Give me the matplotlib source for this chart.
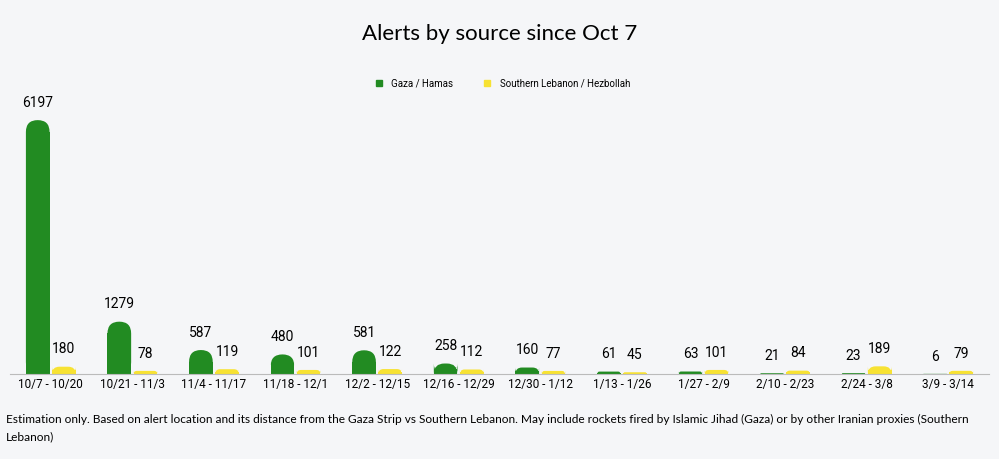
import matplotlib
matplotlib.use("Agg")
import matplotlib.pyplot as plt
from matplotlib.patches import FancyBboxPatch, Rectangle
from matplotlib.lines import Line2D

periods = ["10/7 - 10/20","10/21 - 11/3","11/4 - 11/17","11/18 - 12/1","12/2 - 12/15","12/16 - 12/29",
           "12/30 - 1/12","1/13 - 1/26","1/27 - 2/9","2/10 - 2/23","2/24 - 3/8","3/9 - 3/14"]
gaza = [6197,1279,587,480,581,258,160,61,63,21,23,6]
leb = [180,78,119,101,122,112,77,45,101,84,189,79]

BG = "#f5f6f8"
GREEN = "#228b22"
YELLOW = "#f7e233"
fig = plt.figure(figsize=(9.99,4.59), dpi=100, facecolor=BG)
ax = fig.add_axes([0.01,0.185,0.98,0.625], facecolor=BG)
n = len(periods)
ax.set_xlim(-0.5, n-0.5)
ymax = 7000
ax.set_ylim(0, ymax)
w = 0.29
xpp = n/(0.98*999)
ypp = ymax/(0.625*459)
aspect = ypp/xpp

def rbar(x, h, color):
    r = w/2
    hr = min(r*aspect, h)
    rs = min(r, h/aspect)
    p = FancyBboxPatch((x-w/2, 0), w, h, boxstyle=f"round,pad=0,rounding_size={rs}",
                       mutation_aspect=aspect, fc=color, ec="none", lw=0)
    ax.add_patch(p)
    rh = h - hr if h > 2*hr else h/2
    ax.add_patch(Rectangle((x-w/2, 0), w, rh, fc=color, ec="none", lw=0))

for i,(g,l) in enumerate(zip(gaza,leb)):
    rbar(i-0.16, g, GREEN)
    rbar(i+0.16, l, YELLOW)
    ax.text(i-0.16, g+250, str(g), ha="center", va="bottom", fontsize=10, family="Roboto")
    ax.text(i+0.16, l+250, str(l), ha="center", va="bottom", fontsize=10, family="Roboto")

ax.set_xticks(range(n))
ax.set_xticklabels(periods, fontsize=8.5, family="Roboto")
ax.tick_params(axis="x", length=0, pad=3)
ax.set_yticks([])
for s in ["top","right","left"]:
    ax.spines[s].set_visible(False)
ax.spines["bottom"].set_color("#bbbbbb")

fig.text(0.5, 0.925, "Alerts by source since Oct 7", ha="center", va="center", fontsize=16, family="Lato")
h = [Line2D([],[],marker="s",ls="",color=GREEN,markersize=5),
     Line2D([],[],marker="s",ls="",color=YELLOW,markersize=5)]
fig.legend(h, ["Gaza / Hamas","Southern Lebanon / Hezbollah"], loc="center", bbox_to_anchor=(0.5,0.818),
           ncol=2, frameon=False, prop={"family":"Roboto","size":7}, handletextpad=0.3, columnspacing=2.5)
fig.text(0.006, 0.068, "Estimation only. Based on alert location and its distance from the Gaza Strip vs Southern Lebanon. May include rockets fired by Islamic Jihad (Gaza) or by other Iranian proxies (Southern\nLebanon)",
         ha="left", va="center", fontsize=8.6, family="Lato", linespacing=1.7)
fig.savefig("out.png", dpi=100, facecolor=BG)
